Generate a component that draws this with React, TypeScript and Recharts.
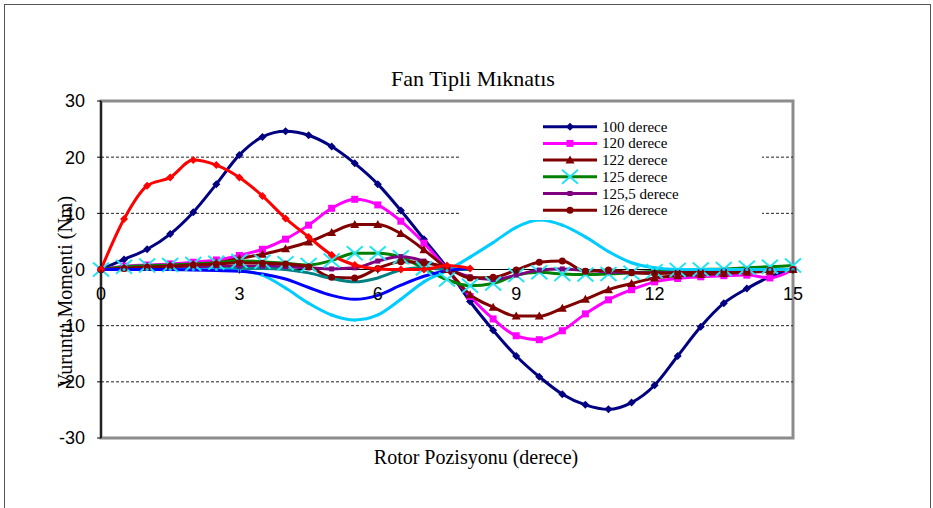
import React from "react"
import { LineChart, Line, XAxis, YAxis, ReferenceLine, ReferenceArea } from "recharts"

// rotor position (degrees), one reading every half degree
const positions = [0, 0.5, 1, 1.5, 2, 2.5, 3, 3.5, 4, 4.5, 5, 5.5, 6, 6.5, 7, 7.5, 8, 8.5, 9, 9.5, 10, 10.5, 11, 11.5, 12, 12.5, 13, 13.5, 14, 14.5, 15]
const xTicks = [0, 3, 6, 9, 12, 15]
const yTicks = [-30, -20, -10, 0, 10, 20, 30]
const gridValues = [-20, -10, 10, 20]

const deg100 = [0, 1.8, 3.6, 6.3, 10.2, 15.2, 20.4, 23.6, 24.6, 23.9, 21.9, 18.9, 15.2, 10.5, 5.4, 0.3, -5.7, -10.8, -15.4, -19.1, -22.2, -24.1, -24.9, -23.7, -20.6, -15.4, -10.2, -6.0, -3.4, -1.3, 0]
const deg120 = [0, 0.6, 0.8, 1.0, 1.3, 1.7, 2.5, 3.6, 5.4, 7.9, 10.9, 12.5, 11.5, 8.6, 4.7, 0, -4.8, -8.8, -11.8, -12.5, -10.9, -7.9, -5.4, -3.6, -2.2, -1.6, -1.3, -1.1, -1.0, -1.5, 0]
const deg122 = [0, 0.3, 0.5, 0.7, 0.9, 1.2, 2.0, 2.7, 3.7, 4.9, 6.6, 8.0, 8.0, 6.4, 3.5, 0, -4.5, -6.7, -8.3, -8.3, -6.9, -5.3, -3.6, -2.5, -1.5, -1.1, -0.9, -0.7, -0.5, -0.3, 0]
const deg125 = [0, 0.5, 0.7, 0.8, 1.0, 1.2, 1.5, 1.4, 1.1, 0.8, 1.6, 2.9, 2.9, 2.2, 0.2, -1.8, -2.9, -2.5, -1.0, -0.5, -0.8, -0.9, -0.8, -0.6, -0.3, -0.1, 0, 0.1, 0.3, 0.5, 0.7]
const deg125_5 = [0, 0.2, 0.3, 0.4, 0.5, 0.6, 0.6, 0.6, 0.5, 0.3, 0.1, 0.3, 1.5, 2.3, 1.5, 0.1, -1.3, -1.8, -1.0, -0.1, 0.1, -0.2, -0.4, -0.6, -0.6, -0.6, -0.5, -0.4, -0.3, -0.2, 0]
const deg126 = [0, 0.2, 0.4, 0.6, 0.8, 1.0, 1.2, 1.1, 1.0, 0.5, -1.4, -1.5, 0.2, 1.4, 1.2, 0.3, -1.5, -1.4, -0.1, 1.3, 1.5, -0.3, -0.1, -0.6, -0.7, -0.6, -0.5, -0.4, -0.3, -0.2, 0]
// unlabelled curves (not listed in the legend)
const extraRed = [0, 9.0, 14.9, 16.4, 19.5, 18.6, 16.4, 13.1, 9.1, 5.8, 2.6, 0.8, 0.1, 0, 0, 0.7, 0.2]
const extraCyan = [0, 0, 0, 0, 0, 0, -0.2, -1.0, -3.3, -6.0, -8.1, -9.0, -8.1, -5.3, -2.2, -0.2, 2.2, 4.8, 7.5, 8.8, 7.9, 5.8, 3.2, 1.2, 0.3, 0, 0, 0, 0, 0, 0]
const extraBlue = [0, 0, 0, 0, -0.1, -0.2, -0.3, -0.8, -1.7, -3.2, -4.6, -5.3, -4.6, -2.8, -1.2, -0.2, 0.2]
const extraTeal = [0, 0, 0, 0, 0, 0.1, 0.2, 0.2, 0, -0.6, -1.6, -2.2, -1.5, -0.1, 0.3, 0, 0]

const series = [
  { key: "s100", name: "100 derece", values: deg100, color: "#000080", marker: "diamond", legend: true },
  { key: "s120", name: "120 derece", values: deg120, color: "#FF00FF", marker: "square", legend: true },
  { key: "s122", name: "122 derece", values: deg122, color: "#800000", marker: "triangle", legend: true },
  { key: "s125", name: "125 derece", values: deg125, color: "#008000", marker: "cross", legend: true },
  { key: "s1255", name: "125,5 derece", values: deg125_5, color: "#800080", marker: "small", legend: true },
  { key: "s126", name: "126 derece", values: deg126, color: "#800000", marker: "circle", legend: true },
  { key: "teal", name: "teal", values: extraTeal, color: "#008080", marker: "none", legend: false },
  { key: "cyan", name: "cyan", values: extraCyan, color: "#00CCFF", marker: "dot", legend: false },
  { key: "blue", name: "blue", values: extraBlue, color: "#0000FF", marker: "none", legend: false },
  { key: "red", name: "red", values: extraRed, color: "#FF0000", marker: "diamond", legend: false },
]

const rows = positions.map((x, i) => {
  const row: Record<string, number | undefined> = { x }
  series.forEach((s) => {
    row[s.key] = s.values[i]
  })
  return row
})

const W = 933
const H = 508
const TOP = 101
const PLOT_H = 337
const serif = "'Liberation Serif', 'Times New Roman', serif"
const sans = "'Liberation Sans', Arial, sans-serif"

function Marker({ shape, cx, cy, color }: { shape: string; cx: number; cy: number; color: string }) {
  if (shape === "diamond") {
    return <polygon points={`${cx},${cy - 4} ${cx + 4},${cy} ${cx},${cy + 4} ${cx - 4},${cy}`} fill={color} />
  }
  if (shape === "square") {
    return <rect x={cx - 3.5} y={cy - 3.5} width={7} height={7} fill={color} />
  }
  if (shape === "small") {
    return <rect x={cx - 2.5} y={cy - 2.5} width={5} height={5} fill={color} />
  }
  if (shape === "triangle") {
    return <polygon points={`${cx},${cy - 4.5} ${cx + 4.5},${cy + 3.5} ${cx - 4.5},${cy + 3.5}`} fill={color} />
  }
  if (shape === "circle") {
    return <circle cx={cx} cy={cy} r={3.5} fill={color} />
  }
  if (shape === "dot") {
    return <circle cx={cx} cy={cy} r={1.6} fill={color} />
  }
  if (shape === "cross") {
    return (
      <g stroke="#22E4F0" strokeWidth={2}>
        <line x1={cx - 8} y1={cy - 7} x2={cx + 8} y2={cy + 7} />
        <line x1={cx - 8} y1={cy + 7} x2={cx + 8} y2={cy - 7} />
      </g>
    )
  }
  return null
}

// x tick labels sit under the zero line, not under the plot frame
function XTick(props: any) {
  const { x, payload } = props
  const zeroY = TOP + PLOT_H / 2
  return (
    <g>
      <line x1={x} x2={x} y1={zeroY} y2={zeroY + 4} stroke="#000" />
      <text x={x} y={zeroY + 30} textAnchor="middle" fontFamily={sans} fontSize={18} fill="#000">
        {payload.value}
      </text>
    </g>
  )
}

function LegendBox() {
  const items = series.filter((s) => s.legend)
  return (
    <div style={{ position: "absolute", left: 461, top: 114, width: 301, height: 106, background: "#fff" }}>
      <svg width={301} height={106}>
        {items.map((s, i) => {
          const y = 12.7 + i * 16.7
          return (
            <g key={s.key}>
              <line x1={82} x2={136} y1={y} y2={y} stroke={s.color} strokeWidth={3} />
              <Marker shape={s.marker} cx={109} cy={y} color={s.color} />
              <text x={141} y={y + 5} fontFamily={serif} fontSize={15} fill="#000">
                {s.name}
              </text>
            </g>
          )
        })}
      </svg>
    </div>
  )
}

export default function App() {
  return (
    <div style={{ position: "absolute", left: 0, top: 0, width: W, height: H, overflow: "hidden", background: "#fff" }}>
      <div style={{ position: "absolute", left: 4, top: 4, width: 925, height: 530, border: "1px solid #555" }} />
      <div
        style={{ position: "absolute", left: 273, top: 66, width: 400, textAlign: "center", fontFamily: serif, fontSize: 22, color: "#000" }}
      >
        Fan Tipli Mıknatıs
      </div>
      <div style={{ position: "absolute", left: 0, top: 0 }}>
        <LineChart width={W} height={H} data={rows} margin={{ top: TOP, right: 140, bottom: 40, left: 41 }}>
          {gridValues.map((g) => (
            <ReferenceLine key={g} y={g} stroke="#222" strokeWidth={1} strokeDasharray="3 2" />
          ))}
          <ReferenceArea x1={0} x2={15} y1={-30} y2={30} fill="none" stroke="#8c8c8c" strokeWidth={3} ifOverflow="visible" />
          <ReferenceLine y={0} stroke="#000" strokeWidth={1} />
          <XAxis
            type="number"
            dataKey="x"
            domain={[0, 15]}
            ticks={xTicks}
            interval={0}
            axisLine={false}
            tickLine={false}
            height={30}
            tick={(p: any) => <XTick {...p} />}
          />
          <YAxis
            type="number"
            domain={[-30, 30]}
            ticks={yTicks}
            interval={0}
            width={60}
            axisLine={{ stroke: "#000", strokeWidth: 1.5 }}
            tickLine={{ stroke: "#000" }}
            tickSize={4}
            tickMargin={12}
            tick={{ fill: "#000", fontSize: 18, fontFamily: sans }}
          />
          {series.map((s) => (
            <Line
              key={s.key}
              dataKey={s.key}
              type="monotone"
              stroke={s.color}
              strokeWidth={3}
              isAnimationActive={false}
              connectNulls={false}
              dot={(p: any) =>
                p.cx == null || p.cy == null || p.value == null ? (
                  <g key={`${s.key}-${p.index}`} />
                ) : (
                  <g key={`${s.key}-${p.index}`}>
                    <Marker shape={s.marker} cx={p.cx} cy={p.cy} color={s.color} />
                  </g>
                )
              }
              activeDot={false}
            />
          ))}
        </LineChart>
      </div>
      <LegendBox />
      <div style={{ position: "absolute", left: 65, top: 292, width: 0, height: 0 }}>
        <div
          style={{
            position: "absolute",
            left: -150,
            top: -12,
            width: 300,
            textAlign: "center",
            transform: "rotate(-90deg)",
            fontFamily: serif,
            fontSize: 20,
            lineHeight: "24px",
            color: "#000",
            whiteSpace: "nowrap",
          }}
        >
          Vuruntu Momenti (Nm)
        </div>
      </div>
      <div
        style={{ position: "absolute", left: 276, top: 446, width: 400, textAlign: "center", fontFamily: serif, fontSize: 20, color: "#000" }}
      >
        Rotor Pozisyonu (derece)
      </div>
    </div>
  )
}
